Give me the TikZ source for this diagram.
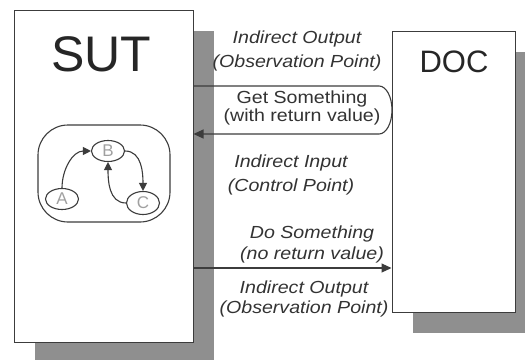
\documentclass[tikz,border=0pt]{standalone}
\usepackage{fontspec}
\setmainfont{Liberation Sans}
\usetikzlibrary{arrows.meta,shapes.geometric}
\definecolor{shadowgray}{HTML}{8F8F8F}
\definecolor{linegray}{HTML}{3C3C3C}
\definecolor{txtgray}{HTML}{333333}
\definecolor{lettergray}{HTML}{A0A0A0}
\tikzset{
  box/.style={draw=linegray, line width=1pt, fill=white, rectangle, inner sep=0pt},
  title/.style={text=black!85, inner sep=0pt},
  italiclabel/.style={text=txtgray, align=center, inner sep=0pt, xscale=1.12,
    font=\fontsize{17.5}{24}\selectfont\itshape},
  uplabel/.style={text=txtgray, align=center, inner sep=0pt, xscale=1.12,
    font=\fontsize{17.5}{18}\selectfont},
  conn/.style={draw=linegray, line width=1.1pt},
  bigtip/.style={-{Triangle[length=10pt,width=9pt]}},
  state/.style={ellipse, draw=linegray, line width=1.1pt, fill=white, text=lettergray,
    minimum width=33pt, minimum height=21pt, inner sep=0pt, font=\fontsize{17}{17}\selectfont},
  smalltip/.style={-{Triangle[length=8pt,width=8pt]}},
}
\begin{document}
\begin{tikzpicture}[x=1pt,y=-1pt]
\clip (0,0) rectangle (525,359);
\useasboundingbox (0,0) rectangle (525,359);
\fill[white] (0,0) rectangle (525,359);
% shadows
\fill[shadowgray] (35,31) rectangle (214,365);
\fill[shadowgray] (413,52) rectangle (540,333);
% boxes
\node[box, minimum width=179pt, minimum height=332pt] (SUT) at (103.5,176) {};
\node[box, minimum width=123pt, minimum height=281pt] (DOC) at (453.5,171.5) {};
\node[title, font=\fontsize{50}{50}\selectfont] (SUTlabel) at (101,54) {SUT};
\node[title, font=\fontsize{31}{31}\selectfont] (DOClabel) at (454,62) {DOC};
% inner state machine
\node[draw=linegray, line width=1.1pt, rounded corners=30pt, minimum width=132pt,
      minimum height=97pt, inner sep=0pt] (inner) at (104,173.5) {};
\node[state] (A) at (62,199) {A};
\node[state] (B) at (108,151) {B};
\node[state, minimum height=23pt] (C) at (143,203) {C};
\draw[conn, smalltip] (A.north) to[out=90,in=180] (B.west);
\draw[conn, smalltip] (B.east) to[out=0,in=90] (C.north);
\draw[conn, smalltip] (C.west) to[out=180,in=-90] (B.south);
% connectors
\coordinate (g1) at (SUT.east |- 0,86);
\coordinate (g2) at (379,86);
\coordinate (g3) at (392,110);
\coordinate (g4) at (379,134);
\coordinate (g5) at (SUT.east |- 0,134);
\draw[conn, bigtip] (g1) -- (g2) .. controls (386.2,86) and (392,96.7) .. (g3)
   .. controls (392,123.3) and (386.2,134) .. (g4) -- (g5);
\coordinate (d1) at (SUT.east |- 0,268);
\draw[conn, bigtip] (d1) -- (DOC.west |- d1);
% labels
\node[italiclabel] (io1) at (297,51) {Indirect Output\\(Observation Point)};
\node[uplabel] (get) at (302,108) {Get Something\\(with return value)};
\node[italiclabel] (ii) at (291,175) {Indirect Input\\(Control Point)};
\node[uplabel, font=\fontsize{17.5}{21}\selectfont\itshape] (do) at (312,244.5) {Do Something\\(no return value)};
\node[italiclabel, font=\fontsize{17.5}{20}\selectfont\itshape] (io2) at (304,299) {Indirect Output\\(Observation Point)};
\end{tikzpicture}
\end{document}
